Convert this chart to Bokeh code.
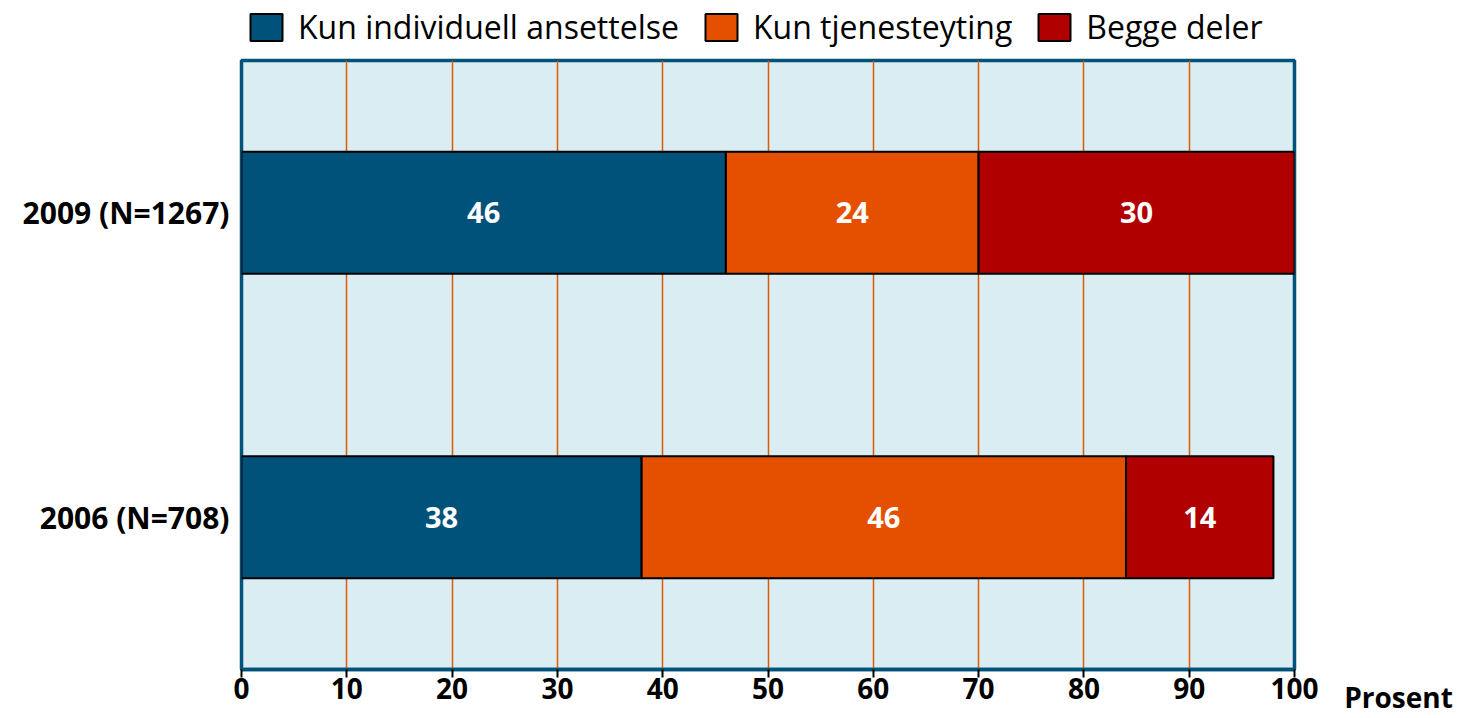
from bokeh.plotting import figure
from bokeh.models import (ColumnDataSource, FactorRange, Range1d, FixedTicker, Legend,
                          LegendItem, LabelSet)
from bokeh.layouts import column, row
from bokeh.embed import file_html
from bokeh.resources import INLINE
from bokeh.core.properties import value

# ---- data ----
categories = ["2006 (N=708)", "2009 (N=1267)"]
series_names = ["Kun individuell ansettelse", "Kun tjenesteyting", "Begge deler"]
individuell = [38, 46]
tjeneste = [46, 24]
begge = [14, 30]
x_ticks = [0, 10, 20, 30, 40, 50, 60, 70, 80, 90, 100]
x_unit_label = "Prosent"

colors = ["#00527a", "#e55000", "#b00000"]
FONT = "Open Sans"
NAN = float("nan")

keys = ["ind", "tj", "beg"]
src = ColumnDataSource(dict(cat=categories, ind=individuell, tj=tjeneste, beg=begge))

MAIN_H = 662
TOP_B, BOT_B = 4, 40

# ---------------- main chart ----------------
p = figure(y_range=FactorRange(factors=categories, range_padding=0, factor_padding=0),
           x_range=Range1d(0, 100),
           width=1324, height=MAIN_H,
           min_border_left=241, min_border_right=30, min_border_top=TOP_B, min_border_bottom=BOT_B,
           output_backend="svg", toolbar_location=None)

p.background_fill_color = "#d9edf2"
p.border_fill_color = "white"
p.outline_line_color = "#00527a"
p.outline_line_width = 3.5

p.hbar_stack(keys, y="cat", height=0.4, color=colors, source=src,
             line_color="black", line_width=2)

# bar value labels
ind_mid, tj_mid, beg_mid = [], [], []
for a, b, c in zip(individuell, tjeneste, begge):
    ind_mid.append(a / 2)
    tj_mid.append(a + b / 2)
    beg_mid.append(a + b + c / 2)
lab_src = ColumnDataSource(dict(
    x=ind_mid + tj_mid + beg_mid,
    y=categories * 3,
    t=[str(v) for v in individuell + tjeneste + begge]))
p.add_layout(LabelSet(x="x", y="y", text="t", source=lab_src, text_align="center",
                      text_baseline="middle", text_color="white", text_font=value(FONT),
                      text_font_size="29px", text_font_style="bold"))

def style_x_axis(ax):
    ax.major_tick_out = 8
    ax.major_tick_in = 0
    ax.minor_tick_line_color = None
    ax.major_label_standoff = 0
    ax.major_label_text_font = FONT
    ax.major_label_text_font_size = "28px"
    ax.major_label_text_font_style = "bold"
    ax.major_label_text_color = "black"

# x axis
p.xaxis.ticker = FixedTicker(ticks=x_ticks)
p.xgrid.ticker = FixedTicker(ticks=x_ticks)
p.xgrid.grid_line_color = "#e05a00"
p.xgrid.grid_line_width = 1.5
p.ygrid.visible = False
p.xaxis.axis_line_color = "#00527a"
p.xaxis.axis_line_width = 3.5
p.xaxis.major_tick_line_color = "black"
p.xaxis.major_tick_line_width = 2
style_x_axis(p.xaxis[0])

# y axis (categories)
p.yaxis.axis_line_color = None
p.yaxis.major_tick_line_color = None
p.yaxis.minor_tick_line_color = None
p.yaxis.major_label_standoff = 6
p.yaxis.major_label_text_font = FONT
p.yaxis.major_label_text_font_size = "30px"
p.yaxis.major_label_text_font_style = "bold"
p.yaxis.major_label_text_color = "black"

# ---------------- legend strip ----------------
lg = figure(width=1461, height=56, x_range=Range1d(0, 1), y_range=Range1d(0, 1),
            x_axis_location=None, y_axis_location=None, min_border=0,
            output_backend="svg", toolbar_location=None)
lg.outline_line_color = None
lg.background_fill_color = "white"
lg.border_fill_color = "white"
lg.grid.visible = False
dummies = [lg.quad(left=[NAN], right=[NAN], top=[NAN], bottom=[NAN], fill_color=c,
                   line_color="black", line_width=2) for c in colors]
legend = Legend(items=[LegendItem(label=n, renderers=[r]) for n, r in zip(series_names, dummies)],
                orientation="horizontal", location=(246, 8),
                glyph_width=40, glyph_height=34, label_standoff=12, spacing=22,
                padding=0, margin=0, border_line_color=None, background_fill_alpha=0,
                label_text_font=FONT, label_text_font_size="32px", label_text_color="black",
                label_height=34)
lg.add_layout(legend)

# ---------------- unit label strip (same frame as main chart) ----------------
ul = figure(width=137, height=MAIN_H, x_range=Range1d(0, 137), y_range=Range1d(0, 1),
            y_axis_location=None, min_border_left=0, min_border_right=0,
            min_border_top=TOP_B, min_border_bottom=BOT_B,
            output_backend="svg", toolbar_location=None)
ul.outline_line_color = None
ul.background_fill_color = "white"
ul.border_fill_color = "white"
ul.grid.visible = False
ul.xaxis.ticker = FixedTicker(ticks=[74])
ul.xaxis.major_label_overrides = {74: x_unit_label}
ul.xaxis.axis_line_color = None
ul.xaxis.major_tick_line_color = None
style_x_axis(ul.xaxis[0])

layout = column(lg, row(p, ul))
open("out.html", "w").write(file_html(layout, INLINE))
